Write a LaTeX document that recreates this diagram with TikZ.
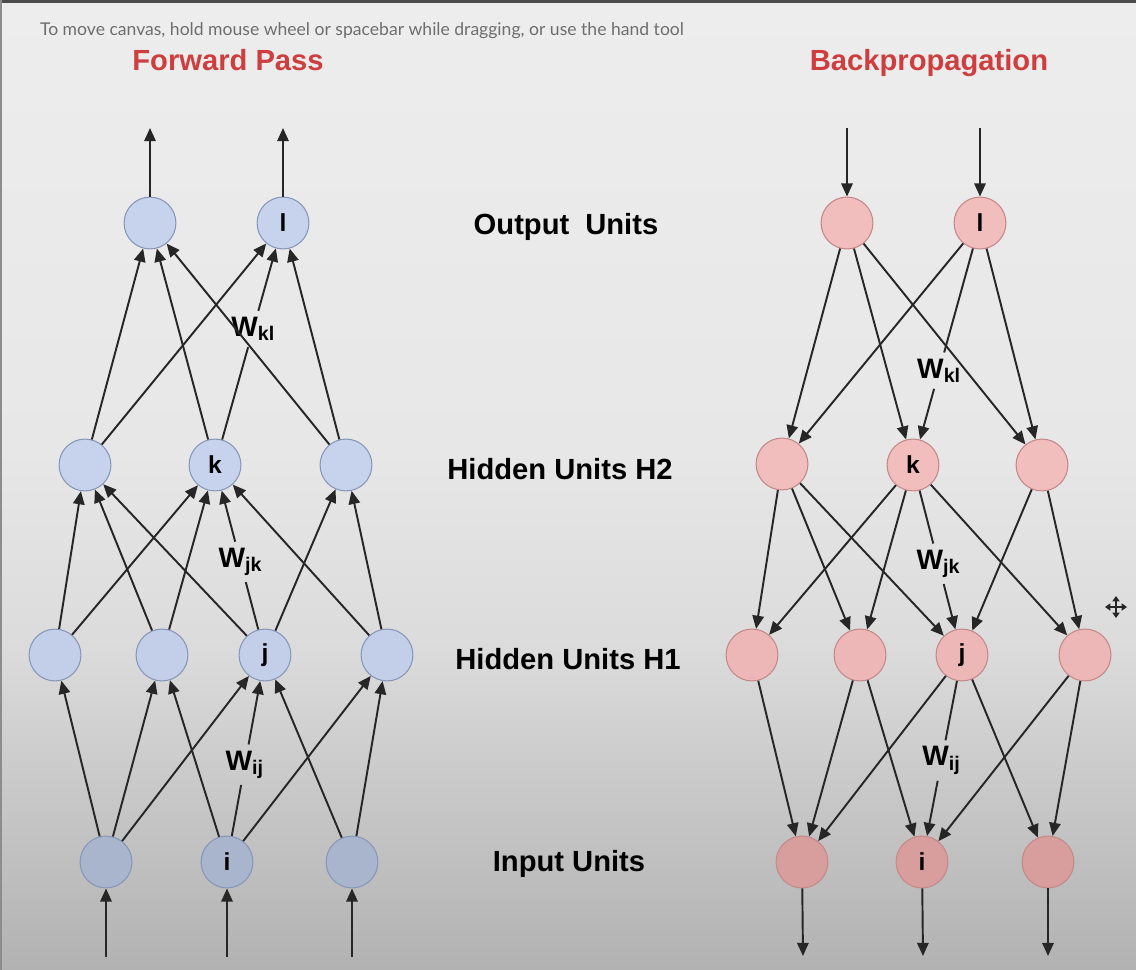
\documentclass[tikz,border=0pt]{standalone}
\usepackage{fontspec}
\setmainfont{Liberation Sans}
\newfontfamily\hintfont{Lato}
\usetikzlibrary{arrows.meta,calc}

\definecolor{bgtop}{HTML}{EDEDED}
\definecolor{bgmid}{HTML}{E7E7E7}
\definecolor{bglow}{HTML}{DBDBDB}
\definecolor{bgdeep}{HTML}{C7C7C7}
\definecolor{bgbot}{HTML}{B2B2B2}
\definecolor{titlered}{HTML}{CE3E3E}
\definecolor{hintgray}{HTML}{6E6E6E}
\definecolor{edge}{HTML}{262626}
\definecolor{fwdline}{HTML}{8696BA}
\definecolor{fwdtop}{HTML}{C7D3EC}
\definecolor{fwdmid}{HTML}{C3CFE8}
\definecolor{fwdbot}{HTML}{A9B4CD}
\definecolor{bwdline}{HTML}{C48888}
\definecolor{bwdtop}{HTML}{F2BDBD}
\definecolor{bwdmid}{HTML}{EEB7B7}
\definecolor{bwdbot}{HTML}{D89E9E}

\pgfdeclareverticalshading{backdrop}{100bp}{color(0bp)=(bgbot); color(25bp)=(bgbot);
  color(33.8bp)=(bgdeep); color(41.5bp)=(bglow); color(51.8bp)=(bgmid); color(75bp)=(bgtop); color(100bp)=(bgtop)}

\tikzset{
  unit/.style={circle, line width=0.6pt, minimum size=29.5pt, inner sep=0pt, text=black, font=\fontsize{14}{14}\selectfont\bfseries},
  fwd/.style={unit, draw=fwdline, fill=#1},
  bwd/.style={unit, draw=bwdline, fill=#1},
  weight/.style={inner sep=3pt, text=black, font=\fontsize{16}{16}\selectfont\bfseries},
  layer/.style={text=black, font=\fontsize{16.6}{16.6}\selectfont\bfseries},
  title/.style={anchor=base, font=\fontsize{16.6}{16.6}\selectfont\bfseries, text=titlered},
}

\begin{document}
\begin{tikzpicture}[x=0.02cm, y=-0.02cm, line width=1.1pt, color=edge, >={Triangle[length=7.5pt,width=6.5pt]}]
  \shade[shading=backdrop] (0,0) rectangle (1136,970);
  \useasboundingbox (0,0) rectangle (1136,970);
  \fill[black!70] (0,0) rectangle (1136,3);
  \fill[black!45] (0,0) rectangle (2,970);

  \node[text=hintgray, font=\hintfont\fontsize{10}{10}\selectfont] (hint) at (362,31) {To move canvas, hold mouse wheel or spacebar while dragging, or use the hand tool};
  \node[title] (fwdtitle) at (228,70) {Forward Pass};
  \node[title] (bwdtitle) at (929,70) {Backpropagation};

  \node[layer] (outlab) at (566,227) {Output\hspace{0.55em}Units};
  \node[layer] (h2lab) at (560,469) {Hidden Units H2};
  \node[layer] (h1lab) at (568,659) {Hidden Units H1};
  \node[layer] (inlab) at (569,864) {Input Units};

  \node[fwd=fwdtop] (f4a) at (150,223) {}; \node[fwd=fwdtop] (f4b) at (283,223) {l};
  \node[fwd=fwdtop] (f3a) at (85,465) {}; \node[fwd=fwdtop] (f3b) at (215,465) {k}; \node[fwd=fwdtop] (f3c) at (346,465) {};
  \node[fwd=fwdmid] (f2a) at (55,655) {}; \node[fwd=fwdmid] (f2b) at (162,655) {}; \node[fwd=fwdmid] (f2c) at (265,655) {j}; \node[fwd=fwdmid] (f2d) at (387,655) {};
  \node[fwd=fwdbot] (f1a) at (106,862) {}; \node[fwd=fwdbot] (f1b) at (227,862) {i}; \node[fwd=fwdbot] (f1c) at (352,862) {};
  \coordinate (f5a) at (150,128); \coordinate (f5b) at (283,128);
  \coordinate (f0a) at (106,957); \coordinate (f0b) at (227,957); \coordinate (f0c) at (352,957);
  \node[weight] (fwkl) at ($(f3b)!0.562!(f4b)$) {W\textsubscript{kl}};
  \node[weight] (fwjk) at ($(f2c)!0.49!(f3b)$) {W\textsubscript{jk}};
  \node[weight] (fwij) at ($(f1b)!0.47!(f2c)$) {W\textsubscript{ij}};
  \draw [->] (f0a) -- (f1a); \draw [->] (f0b) -- (f1b); \draw [->] (f0c) -- (f1c);
  \draw [->] (f1a) -- (f2a); \draw [->] (f1a) -- (f2b); \draw [->] (f1a) -- (f2c);
  \draw [->] (f1b) -- (f2b); \draw (f1b) -- (fwij); \draw [->] (fwij) -- (f2c); \draw [->] (f1b) -- (f2d);
  \draw [->] (f1c) -- (f2c); \draw [->] (f1c) -- (f2d);
  \draw [->] (f2a) -- (f3a); \draw [->] (f2b) -- (f3a); \draw [->] (f2c) -- (f3a);
  \draw [->] (f2a) -- (f3b); \draw [->] (f2b) -- (f3b); \draw (f2c) -- (fwjk); \draw [->] (fwjk) -- (f3b); \draw [->] (f2d) -- (f3b);
  \draw [->] (f2c) -- (f3c); \draw [->] (f2d) -- (f3c);
  \draw [->] (f3a) -- (f4a); \draw [->] (f3b) -- (f4a); \draw [->] (f3c) -- (f4a);
  \draw [->] (f3a) -- (f4b); \draw (f3b) -- (fwkl); \draw [->] (fwkl) -- (f4b); \draw [->] (f3c) -- (f4b);
  \draw [->] (f4a) -- (f5a); \draw [->] (f4b) -- (f5b);

  \node[bwd=bwdtop] (b4a) at (847,223) {}; \node[bwd=bwdtop] (b4b) at (980,223) {l};
  \node[bwd=bwdtop] (b3a) at (782,464) {}; \node[bwd=bwdtop] (b3b) at (913,465) {k}; \node[bwd=bwdtop] (b3c) at (1042,465) {};
  \node[bwd=bwdmid] (b2a) at (752,655) {}; \node[bwd=bwdmid] (b2b) at (860,655) {}; \node[bwd=bwdmid] (b2c) at (962,655) {j}; \node[bwd=bwdmid] (b2d) at (1085,655) {};
  \node[bwd=bwdbot] (b1a) at (802,862) {}; \node[bwd=bwdbot] (b1b) at (922,862) {i}; \node[bwd=bwdbot] (b1c) at (1048,862) {};
  \coordinate (b5a) at (847,128); \coordinate (b5b) at (980,128);
  \coordinate (b0a) at (803,956); \coordinate (b0b) at (923,956); \coordinate (b0c) at (1048,956);
  \node[weight] (bwkl) at ($(b4b)!0.61!(b3b)$) {W\textsubscript{kl}};
  \node[weight] (bwjk) at ($(b3b)!0.52!(b2c)$) {W\textsubscript{jk}};
  \node[weight] (bwij) at ($(b2c)!0.51!(b1b)$) {W\textsubscript{ij}};
  \draw [->] (b5a) -- (b4a); \draw [->] (b5b) -- (b4b);
  \draw [->] (b4a) -- (b3a); \draw [->] (b4a) -- (b3b); \draw [->] (b4a) -- (b3c);
  \draw [->] (b4b) -- (b3a); \draw (b4b) -- (bwkl); \draw [->] (bwkl) -- (b3b); \draw [->] (b4b) -- (b3c);
  \draw [->] (b3a) -- (b2a); \draw [->] (b3a) -- (b2b); \draw [->] (b3a) -- (b2c);
  \draw [->] (b3b) -- (b2a); \draw [->] (b3b) -- (b2b); \draw (b3b) -- (bwjk); \draw [->] (bwjk) -- (b2c); \draw [->] (b3b) -- (b2d);
  \draw [->] (b3c) -- (b2c); \draw [->] (b3c) -- (b2d);
  \draw [->] (b2a) -- (b1a); \draw [->] (b2b) -- (b1a); \draw [->] (b2c) -- (b1a);
  \draw [->] (b2b) -- (b1b); \draw (b2c) -- (bwij); \draw [->] (bwij) -- (b1b); \draw [->] (b2d) -- (b1b);
  \draw [->] (b2c) -- (b1c); \draw [->] (b2d) -- (b1c);
  \draw [->] (b1a) -- (b0a); \draw [->] (b1b) -- (b0b); \draw [->] (b1c) -- (b0c);

  \draw [{Triangle[length=3pt,width=4pt]}-{Triangle[length=3pt,width=4pt]}, line width=0.9pt] (1105,607) -- (1127,607);
  \draw [{Triangle[length=3pt,width=4pt]}-{Triangle[length=3pt,width=4pt]}, line width=0.9pt] (1116,596) -- (1116,618);
\end{tikzpicture}
\end{document}
